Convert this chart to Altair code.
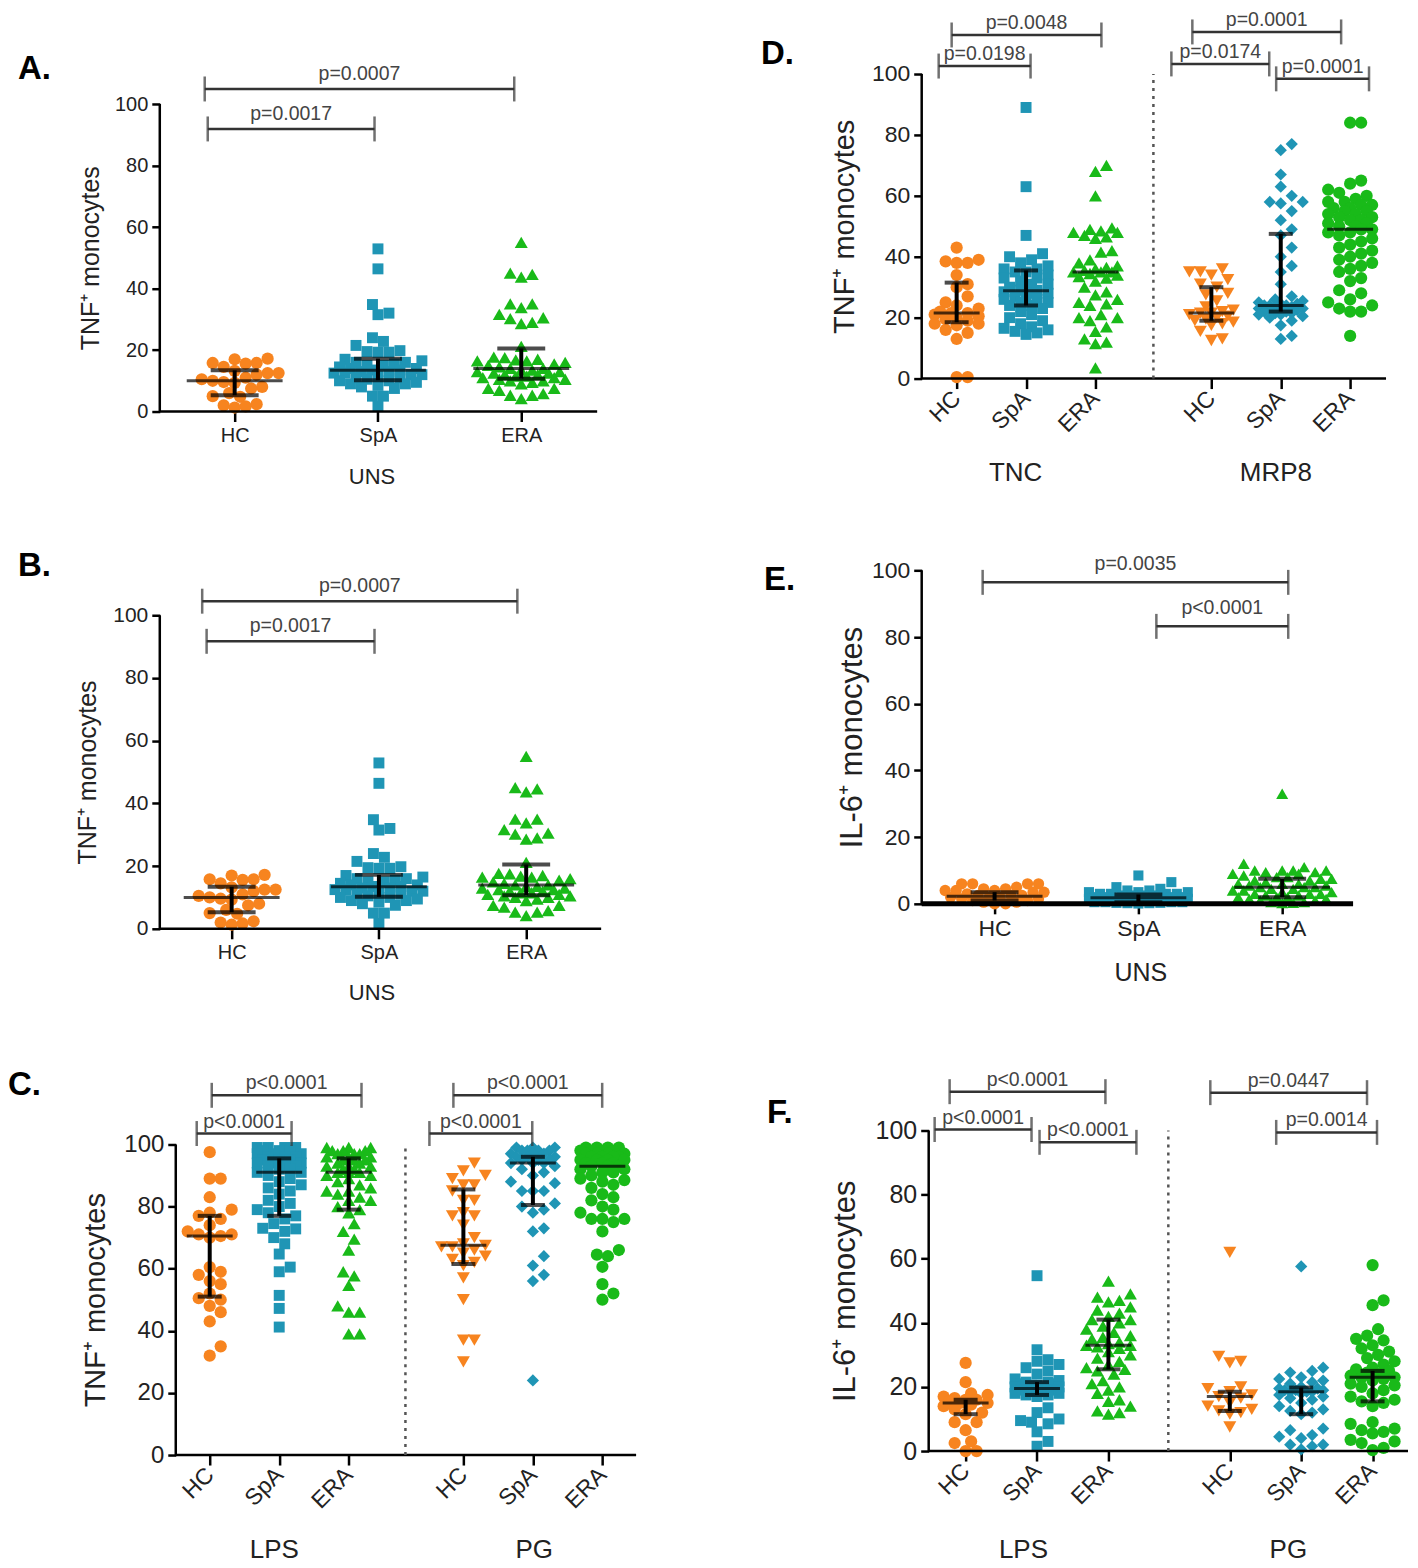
import altair as alt
import pandas as pd
import numpy as np

FONT = "Liberation Sans"
ORANGE, BLUE, GREEN = "#F7841F", "#1F95B5", "#19BA19"
GROUPS = ["HC", "SpA", "ERA"]
GROUPS6 = GROUPS + GROUPS

# ---------------- Panel A / B : TNF+ monocytes, UNS ----------------
A_HC = [17.0, 17.2, 15.8, 15.6, 15.8, 14.5, 13.2, 12.5, 12.5, 12.0, 11.0, 10.5, 10.0, 9.6, 9.3,
        8.0, 7.5, 6.0, 5.0, 4.8, 2.4, 2.0, 1.7, 1.3]
A_SpA = [52.9, 46.4, 34.8, 32.0, 31.5, 24.0, 22.8, 21.5, 19.8, 19.5, 19.3, 19.3, 17.0, 16.5, 16.0,
         16.0, 15.5, 15.0, 15.0, 14.5, 14.0, 14.0, 13.5, 13.5, 13.0, 13.0, 12.5, 12.5, 12.0, 12.0,
         11.5, 11.0, 11.0, 10.5, 10.0, 10.0, 9.5, 9.0, 9.0, 8.5, 8.0, 7.5, 5.0, 5.0, 1.7]
A_ERA = [55.0, 45.0, 44.6, 43.7, 35.0, 35.0, 33.8, 31.6, 30.5, 30.2, 29.0, 28.6, 21.2, 17.7, 17.5,
         17.0, 16.8, 16.5, 16.5, 16.0, 15.5, 15.0, 14.5, 14.0, 14.0, 13.5, 13.5, 13.0, 13.0, 12.5,
         12.5, 12.0, 12.0, 11.5, 11.5, 11.0, 11.0, 10.5, 10.5, 10.0, 10.0, 9.5, 9.0, 7.5, 7.5, 6.9,
         5.8, 5.3, 5.3, 4.2]
A_MED = [10.0, 13.4, 14.0]
A_Q1 = [5.3, 10.2, 10.7]
A_Q3 = [13.4, 17.2, 20.5]
A_BR_X1 = [0.812, 0.791]
A_BR_X2 = [1.976, 2.951]
A_BR_Y = [91.9, 104.9]
A_BR_T = ["p=0.0017", "p=0.0007"]
B_BR_X1 = [0.83, 0.80]
B_BR_X2 = [1.97, 2.94]
B_BR_Y = [91.7, 104.5]

# ---------------- Panel C : TNF+ monocytes, LPS / PG ----------------
C_LPS_HC = [97.5, 89, 89, 83, 79, 78, 77, 76, 74, 72, 71, 71, 70.5, 70, 60.5, 59, 58, 56, 55, 52,
            50.5, 50, 48, 46, 43, 35, 32]
C_LPS_SpA = [99, 99, 99, 99, 98, 98, 98, 97, 97, 97, 96, 96, 96, 95, 95, 95, 94, 94, 94, 93, 93, 93,
             92, 92, 91, 91, 90, 89, 88, 87, 86, 85, 84, 82, 81, 80, 79, 78, 77, 76, 74.5, 73, 72.8,
             72, 70, 68, 64.7, 60.5, 59, 51.4, 47.2, 41.2]
C_LPS_ERA = [99, 99, 99, 98, 98, 98, 97, 97, 97, 96, 96, 96, 95, 95, 95, 94, 94, 93, 93, 93, 92, 92,
             91, 91, 91, 90, 90, 89, 88, 87, 86, 85, 85, 84, 83, 82, 82, 80, 79, 78, 74.5, 72, 69.5,
             66, 59, 57.7, 54.6, 48, 46, 46, 39, 39]
C_PG_HC = [94, 91.5, 90, 89, 87, 87, 85, 82, 82, 78, 77, 77, 74, 70, 68, 67.5, 67, 67, 66, 65, 64,
           63, 62, 61, 57, 50, 37, 37, 30]
C_PG_SpA = [99, 99, 99, 98, 98, 98, 98, 97, 97, 97, 96, 96, 96, 95, 95, 95, 94, 94, 94, 93, 92, 91,
            90, 88, 87.5, 85, 85, 85, 81, 80, 79, 78, 73, 72, 64, 61, 58, 56, 24]
C_PG_ERA = [99, 99, 99, 99, 98, 98, 98, 98, 97, 97, 97, 97, 96, 96, 96, 96, 95, 95, 95, 95, 94, 94,
            94, 93, 93, 93, 92, 92, 91, 91, 90, 89, 88.5, 88, 87, 86, 84, 83, 82, 80, 79, 78, 76,
            76, 76, 75, 72, 66, 64.5, 64, 60.6, 55, 52, 50]
C_MED = [70.5, 91, 91, 67.5, 94, 93]
C_Q1 = [51, 77, 79, 61.5, 80.5, None]
C_Q3 = [77, 95.5, 95.5, 85.5, 96, None]
C_BR_X1 = [0.813, 1.029, 4.161, 4.506]
C_BR_X2 = [2.178, 3.184, 5.641, 6.647]
C_BR_Y = [103.5, 115.8, 103.5, 115.8]
C_BR_T = ["p<0.0001", "p<0.0001", "p<0.0001", "p<0.0001"]
C_GROUPS = ["LPS", "PG"]

# ---------------- Panel D : TNF+ monocytes, TNC / MRP8 ----------------
D_TNC_HC = [43, 39, 38.5, 38, 38, 34, 31, 30, 27, 25, 24, 23, 22, 21.5, 21.5, 21, 20.5, 20, 19.5,
            19, 18, 18, 17.5, 16, 15, 13, 0.5, 0.5]
D_TNC_SpA = [89, 63, 47, 41, 40, 39, 38, 37, 36, 36, 35, 35, 34, 33, 33, 32, 31, 31, 30, 30, 29, 29,
             28.5, 28, 28, 27, 27, 26, 26, 25, 25, 24, 24, 23, 22, 21, 20, 19, 18, 17, 16.5, 16,
             15.5, 15, 14.5]
D_TNC_ERA = [70, 68, 60, 49.5, 49, 48.5, 48, 48, 47, 46.5, 46, 42, 41.5, 39, 38, 37, 36.5, 36, 35.5,
             35, 35, 35, 34.5, 34, 33.5, 33, 32, 30, 28.5, 27.5, 26, 25, 24.5, 24, 21, 20, 20, 19,
             17, 15.5, 13, 12, 11.5, 3.5]
D_MRP8_HC = [36, 35, 35, 34, 32.5, 31, 30, 28, 27.5, 25.5, 23.5, 22.5, 22, 21.5, 21.5, 21, 20.5,
             20, 19.5, 19, 18.5, 18, 17.5, 15.5, 13, 12.5]
D_MRP8_SpA = [77, 75, 67, 63, 60, 58, 58, 57.5, 55, 52, 49, 47, 43, 40, 37, 35, 31, 27, 26, 25.5,
              25, 24.5, 24.5, 24, 24, 24, 23.5, 23.5, 23, 23, 23, 22.5, 22.5, 22, 22, 21.5, 21.5,
              21, 21, 20.5, 20, 19, 17.5, 14, 13]
D_MRP8_ERA = [84, 84, 65, 64, 62, 61, 60, 59, 58, 58, 57, 57, 56, 56, 55, 55, 54, 54, 53, 53, 52,
              52, 51, 51, 50, 50, 49, 49, 48, 48, 47, 46, 45, 44, 43, 42, 41, 40, 39, 38, 37, 36,
              35, 33, 32, 29, 28, 26, 25, 24, 23, 22, 22, 14]
D_MED = [21.5, 28.8, 35, 21.5, 24, 49]
D_Q1 = [18.5, 24, None, 19, 22, None]
D_Q3 = [31.5, 35.5, None, 30, 47.5, None]
D_BR_X1 = [0.741, 0.928, 4.094, 5.604, 4.396]
D_BR_X2 = [2.065, 3.086, 5.504, 6.942, 6.540]
D_BR_Y = [102.6, 112.8, 103.3, 98.4, 113.8]
D_BR_T = ["p=0.0198", "p=0.0048", "p=0.0174", "p=0.0001", "p=0.0001"]
D_GROUPS = ["TNC", "MRP8"]

# ---------------- Panel E : IL-6+ monocytes, UNS ----------------
E_HC = [6, 6, 6, 6, 5, 4.5, 4.5, 4, 4, 4, 3.5, 3.5, 3, 2.5, 2.5, 2.5, 2, 2, 2, 1.5, 1.5, 1, 1, 0.5,
        0.5, 0, 0]
E_SpA = [8.5, 6.5, 5, 4.5, 4, 4, 3.5, 3.5, 3.5, 3, 3, 3, 3, 2.5, 2.5, 2.5, 2.5, 2, 2, 2, 2, 2, 1.5,
         1.5, 1.5, 1.5, 1.5, 1.5, 1, 1, 1, 1, 1, 1, 0.8, 0.8, 0.5, 0.5, 0.5, 0.5, 0.3, 0.3, 0.2,
         0.2, 0.1]
E_ERA = [33, 12, 11, 10, 10, 10, 10, 9.5, 9.5, 9, 9, 8.5, 8, 8, 7.5, 7.5, 7, 7, 6.5, 6, 6, 6, 5.5,
         5.5, 5, 5, 5, 4.5, 4.5, 4, 4, 3.5, 3.5, 3, 3, 3, 2.5, 2.5, 2, 2, 2, 1.5, 1.5, 1, 1, 0.5,
         0.5, 0.3, 0.2]
E_MED = [2.3, 1.8, 5.0]
E_Q1 = [1.0, 0.5, 2.0]
E_Q3 = [3.5, 2.8, 7.5]
E_BR_X1 = [0.917, 2.125]
E_BR_X2 = [3.042, 3.042]
E_BR_Y = [96.4, 83.2]
E_BR_T = ["p=0.0035", "p<0.0001"]

# ---------------- Panel F : IL-6+ monocytes, LPS / PG ----------------
F_LPS_HC = [27.5, 21.5, 18, 17.5, 17, 16.5, 16, 16, 15.5, 15, 15, 14.5, 14, 13, 12, 11.5, 9, 9,
            6.5, 3, 2.5, 0, 0]
F_LPS_SpA = [54.7, 31.6, 28.5, 28, 27, 26, 25, 24, 22.5, 22, 21.5, 21.5, 21, 21, 20.5, 20.5, 20, 20,
             20, 19.5, 19.5, 19, 19, 19, 18.5, 18.5, 18, 18, 17.5, 17.5, 17, 13.5, 12, 10, 9.5, 9,
             8.5, 6, 3, 1.5]
F_LPS_ERA = [53, 49, 48, 47, 46.5, 45, 44, 43, 42, 41, 41, 40, 39, 38, 37, 36, 35.5, 35, 34, 33.5,
             33, 33, 32.5, 32, 31, 30, 29, 28, 27, 26, 25.5, 25, 24, 22, 21, 20, 19, 18, 16, 15.5,
             14, 12.5, 12, 11.5]
F_PG_HC = [62, 29.5, 28, 27.5, 20, 19.5, 18.5, 17.5, 17, 16.5, 15, 14, 13, 12.5, 12, 11.5, 7.5]
F_PG_SpA = [57.6, 26, 25, 24.5, 23, 22.5, 22, 21.5, 21, 20, 19.5, 19.5, 19, 19, 19, 18.5, 18.5,
            18.5, 18, 17.5, 17, 16.5, 16, 15, 14, 13, 12.5, 12, 11.5, 7, 6.5, 5, 4.5, 4, 2, 2,
            1.5, 0.5]
F_PG_ERA = [58, 47, 45.5, 38, 36, 35, 34.5, 33, 32, 31, 30, 29, 28, 27, 26, 25.5, 25, 24.5, 24,
            23.5, 23, 23, 22.5, 22, 21, 20.5, 20, 19, 18, 17, 16, 15.5, 15, 14, 9, 8.5, 7, 6.5, 6,
            5.5, 3.5, 3, 2.5, 1, 0.3]
F_MED = [15, 19.5, 33, 17, 18.5, 23]
F_Q1 = [11.5, 17.5, 25.5, 12.5, 11.5, 15.5]
F_Q3 = [16, 21.5, 41, 18.5, 19.8, 25]
F_BR_X1 = [0.566, 2.035, 0.776, 4.427, 5.35]
F_BR_X2 = [1.923, 3.392, 2.958, 6.622, 6.762]
F_BR_Y = [100.3, 96.3, 112.1, 111.8, 99.4]
F_BR_T = ["p<0.0001", "p<0.0001", "p<0.0001", "p=0.0447", "p=0.0014"]
F_GROUPS = ["LPS", "PG"]

Y_TICKS = [0, 20, 40, 60, 80, 100]
SHAPE_SIZE = {"circle": 150, "square": 120, "triangle-up": 170, "triangle-down": 170, "diamond": 150}


def swarm(vals, ppy, d, maxw):
    """GraphPad-like scatter: spread points sideways so markers do not overlap."""
    order = sorted(range(len(vals)), key=lambda i: vals[i])
    placed, offs = [], [0.0] * len(vals)
    step = d / 2.0
    cands = [0.0]
    for k in range(1, int(maxw // step) + 1):
        cands += [k * step, -k * step]
    for i in order:
        y = vals[i] * ppy
        near = [(px, py) for px, py in placed if abs(py - y) < d]
        best = None
        for c in cands:
            if all((c - px) ** 2 + (y - py) ** 2 >= d * d for px, py in near):
                best = c
                break
        if best is None:
            best = max(cands, key=lambda c: (min((c - px) ** 2 + (y - py) ** 2 for px, py in near), -abs(c)))
        placed.append((best, y))
        offs[i] = best
    return offs


def build(p):
    W, H = p["w"], p["h"]
    xs = alt.Scale(domain=[p["x0"], p["x1"]], nice=False, zero=False)
    ys = alt.Scale(domain=[0, p["ymax"]], nice=False, zero=False)
    ppy = H / p["ymax"]
    ppu = W / (p["x1"] - p["x0"])

    rows = []
    for xpos, vals, col, shp in zip(p["pos"], p["series"], p["colors"], p["shapes"]):
        offs = swarm(vals, ppy, p["d"], p["maxw"])
        for v, o in zip(vals, offs):
            rows.append({"x": xpos + o / ppu, "y": v, "c": col, "s": shp, "z": SHAPE_SIZE[shp] * p["msc"]})
    pts = pd.DataFrame(rows)

    expr = "".join(f"abs(datum.value - {q}) < 0.01 ? '{l}' : " for q, l in zip(p["pos"], p["labels"])) + "''"
    xkw = dict(values=p["pos"], labelExpr=expr, domain=False, grid=False, tickSize=10, tickWidth=2.5,
               tickColor="black", labelFontSize=p["xlab_fs"], labelColor="#222", labelFlush=False,
               labelOverlap=False, labelFont=FONT)
    if p["rotated"]:
        xkw.update(labelAngle=315, labelAlign="right", labelBaseline="middle", labelPadding=6, title=None)
    else:
        xkw.update(labelAngle=0, labelAlign="center", labelBaseline="top", labelPadding=4,
                   title=p["xtitle"], titleX=p["xtitle_x"], titleY=p["xtitle_y"], titleBaseline="top",
                   titleAlign="center", titleFontSize=p["xtitle_fs"], titleFontWeight="normal",
                   titleColor="#222", titleFont=FONT)
    XA = alt.Axis(**xkw)
    YA = alt.Axis(values=Y_TICKS, format="d", domain=False, grid=False, tickSize=8,
                  tickWidth=2.5, tickColor="black", labelFontSize=p["ylab_fs"], labelColor="#222",
                  labelPadding=4, labelFlush=False, labelFont=FONT, offset=-p["axis_px"],
                  title=p["ytitle"], titleFontSize=p["ytitle_fs"], titleFontWeight="normal",
                  titleColor="#222", titleFont=FONT, titleAngle=270, titleBaseline="bottom",
                  titleAlign="center", titleX=p["ytitle_x"], titleY=H - 50 * ppy)

    def X(f):
        return alt.X(f, scale=xs, axis=XA)

    def Y(f):
        return alt.Y(f, scale=ys, axis=YA)

    layers = []
    layers.append(alt.Chart(pts).mark_point(filled=True, opacity=1, strokeWidth=0).encode(
        x=X("x:Q"), y=Y("y:Q"),
        color=alt.Color("c:N", scale=None),
        shape=alt.Shape("s:N", scale=None),
        size=alt.Size("z:Q", scale=None)))

    one = pd.DataFrame({"y": [0.0], "y2": [100.0]})
    layers.append(alt.Chart(one).mark_rule(color="black", strokeWidth=2.5).encode(
        x=alt.value(p["axis_px"]), y=Y("y:Q"), y2="y2:Q"))
    layers.append(alt.Chart(one).mark_rule(color="black", strokeWidth=p["xline_w"]).encode(
        x=alt.value(p["axis_px"]), x2=alt.value(W), y=alt.value(H)))
    if p.get("sep") is not None:
        sep = pd.DataFrame({"x": [p["sep"]], "y": [0.0], "y2": [100.0]})
        layers.append(alt.Chart(sep).mark_rule(color="#555", strokeWidth=2.5, strokeDash=[3, 5]).encode(
            x=X("x:Q"), y=Y("y:Q"), y2="y2:Q"))

    st = pd.DataFrame({"x": p["pos"], "med": p["med"], "q1": p["q1"], "q3": p["q3"]})
    iqr = st.dropna()
    caps = pd.DataFrame({"x": list(iqr.x) * 2, "cap": list(iqr.q1) + list(iqr.q3)})
    layers.append(alt.Chart(iqr).mark_rule(color="black", strokeWidth=4).encode(
        x=X("x:Q"), y=Y("q1:Q"), y2="q3:Q"))
    layers.append(alt.Chart(caps).mark_tick(orient="horizontal", size=p["cap_w"], thickness=4, color="black").encode(
        x=X("x:Q"), y=Y("cap:Q")))
    layers.append(alt.Chart(st).mark_tick(orient="horizontal", size=p["med_w"], thickness=3, color="black").encode(
        x=X("x:Q"), y=Y("med:Q")))

    br = pd.DataFrame({"x": p["bx1"], "x2": p["bx2"], "y": p["by"], "t": p["bt"]})
    br["xm"] = (br["x"] + br["x2"]) / 2
    ends = pd.DataFrame({"x": list(br["x"]) + list(br["x2"]), "y": list(br["y"]) * 2})
    layers.append(alt.Chart(br).mark_rule(color="#333", strokeWidth=2.5).encode(
        x=X("x:Q"), x2="x2:Q", y=Y("y:Q")))
    layers.append(alt.Chart(ends).mark_tick(orient="vertical", size=25, thickness=2.5, color="#333").encode(
        x=X("x:Q"), y=Y("y:Q")))
    layers.append(alt.Chart(br).mark_text(baseline="bottom", dy=p["bdy"], fontSize=19.5, color="#444",
                                          font=FONT).encode(
        x=X("xm:Q"), y=Y("y:Q"), text="t:N"))

    if p.get("groups"):
        gl = pd.DataFrame({"x": p["group_x"], "t": p["groups"]})
        layers.append(alt.Chart(gl).mark_text(fontSize=26, baseline="middle", color="#222", font=FONT).encode(
            x=X("x:Q"), y=alt.value(H + p["group_dy"]), text="t:N"))

    lab = pd.DataFrame({"t": [p["letter"]]})
    layers.append(alt.Chart(lab).mark_text(align="left", baseline="middle", fontSize=33, fontWeight="bold",
                                           color="black", font=FONT).encode(
        x=alt.value(p["tdx"]), y=alt.value(p["tdy"]), text="t:N"))
    return alt.layer(*layers).properties(width=W, height=H)


col3 = [ORANGE, BLUE, GREEN]
col6 = col3 + col3
shp3 = ["circle", "square", "triangle-up"]
shp6 = shp3 + ["triangle-down", "diamond", "circle"]
TNF = "TNF\u207a monocytes"
IL6 = "IL-6\u207a monocytes"

base_wide = dict(d=11, maxw=45, med_w=96, cap_w=48, rotated=False, msc=1.0, bdy=-3)
base_narrow = dict(d=11, maxw=24, med_w=46, cap_w=24, rotated=True, msc=1.0, bdy=-2)

pA = dict(base_wide, letter="A.", w=438, h=396, x0=0.4774, x1=3.5297, ymax=128.6, axis_px=0,
          pos=[1, 2, 3], labels=GROUPS, series=[A_HC, A_SpA, A_ERA], colors=col3, shapes=shp3,
          med=A_MED, q1=A_Q1, q3=A_Q3, bx1=A_BR_X1, bx2=A_BR_X2, by=A_BR_Y, bt=A_BR_T,
          ytitle=TNF, ytitle_fs=25, ylab_fs=20, ytitle_x=-56, xlab_fs=20,
          xtitle="UNS", xtitle_x=212, xtitle_y=55, xtitle_fs=22, xline_w=2.5, tdx=-142, tdy=53, bdy=-5)
pB = dict(pA, letter="B.", w=442, h=378, x0=0.512, x1=3.509, ymax=120.4,
          bx1=B_BR_X1, bx2=B_BR_X2, by=B_BR_Y, ylab_fs=21, ytitle_x=-59, xtitle_y=54, tdy=15)
pC = dict(base_narrow, letter="C.", w=477, h=387, x0=0.2816, x1=7.135, ymax=124.4, axis_px=16,
          pos=[1, 2, 3, 4.65, 5.65, 6.65], labels=GROUPS6,
          series=[C_LPS_HC, C_LPS_SpA, C_LPS_ERA, C_PG_HC, C_PG_SpA, C_PG_ERA], colors=col6, shapes=shp6,
          med=C_MED, q1=C_Q1, q3=C_Q3, bx1=C_BR_X1, bx2=C_BR_X2, by=C_BR_Y, bt=C_BR_T,
          ytitle=TNF, ytitle_fs=29, ylab_fs=24, ytitle_x=-65, xlab_fs=23, sep=3.816,
          groups=C_GROUPS, group_x=[1.93, 5.67], group_dy=95, xline_w=2.5, tdx=-152, tdy=16)
pD = dict(base_narrow, letter="D.", w=465, h=363, x0=0.4964, x1=7.187, ymax=119.0, axis_px=0,
          pos=[1, 2, 3, 4.67, 5.67, 6.67], labels=GROUPS6,
          series=[D_TNC_HC, D_TNC_SpA, D_TNC_ERA, D_MRP8_HC, D_MRP8_SpA, D_MRP8_ERA], colors=col6,
          shapes=shp6, med=D_MED, q1=D_Q1, q3=D_Q3, bx1=D_BR_X1, bx2=D_BR_X2, by=D_BR_Y, bt=D_BR_T,
          ytitle=TNF, ytitle_fs=29, ylab_fs=23, ytitle_x=-62, xlab_fs=23, sep=3.835,
          groups=D_GROUPS, group_x=[1.85, 5.6], group_dy=95, xline_w=2.5, tdx=-161, tdy=38)
pE = dict(base_wide, letter="E.", w=432, h=353, x0=0.4931, x1=3.493, ymax=105.7, axis_px=0,
          pos=[1, 2, 3], labels=GROUPS, series=[E_HC, E_SpA, E_ERA], colors=col3, shapes=shp3,
          med=E_MED, q1=E_Q1, q3=E_Q3, bx1=E_BR_X1, bx2=E_BR_X2, by=E_BR_Y, bt=E_BR_T,
          ytitle=IL6, ytitle_fs=31, ylab_fs=23, ytitle_x=-53, xlab_fs=23,
          xtitle="UNS", xtitle_x=219, xtitle_y=57, xtitle_fs=25, xline_w=5, tdx=-158, tdy=29,
          maxw=50, msc=0.85, bdy=-8)
pF = dict(base_narrow, letter="F.", w=487, h=383, x0=0.3846, x1=7.196, ymax=119.3, axis_px=7,
          pos=[1, 2, 3, 4.7, 5.7, 6.7], labels=GROUPS6,
          series=[F_LPS_HC, F_LPS_SpA, F_LPS_ERA, F_PG_HC, F_PG_SpA, F_PG_ERA], colors=col6, shapes=shp6,
          med=F_MED, q1=F_Q1, q3=F_Q3, bx1=F_BR_X1, bx2=F_BR_X2, by=F_BR_Y, bt=F_BR_T,
          ytitle=IL6, ytitle_fs=31, ylab_fs=25, ytitle_x=-67, xlab_fs=23, sep=3.839,
          groups=F_GROUPS, group_x=[1.81, 5.52], group_dy=99, xline_w=2.5, tdx=-155, tdy=44)

charts = [build(p) for p in (pA, pD, pB, pE, pC, pF)]
chart = alt.concat(*charts, columns=2, spacing={"row": 140, "column": 286}, bounds="flush", align="each")
chart = chart.properties(padding=0).configure_view(strokeWidth=0)
chart.save("out.html", embed_options={"renderer": "svg", "actions": False})
